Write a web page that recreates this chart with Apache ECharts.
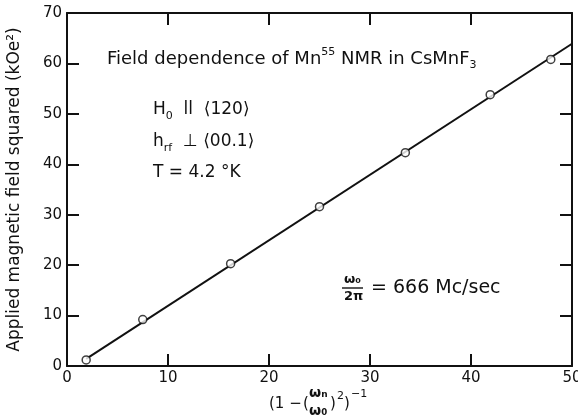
<!DOCTYPE html>
<html>
<head>
<meta charset="utf-8">
<script src="https://cdn.jsdelivr.net/npm/echarts@6/dist/echarts.min.js"></script>
<style>html,body{margin:0;padding:0;background:#fff}#c{width:578px;height:417px}</style>
</head>
<body>
<div id="c"></div>
<script>
// Data
var pointsX = [1.9, 7.5, 16.2, 25.0, 33.5, 41.9, 47.9];
var pointsY = [1.2, 9.2, 20.3, 31.6, 42.3, 53.8, 60.8];
var fitX = [1.9, 50];
var fitY = [1.4, 63.9];
var xTicks = [0, 10, 20, 30, 40, 50];
var yTicks = [0, 10, 20, 30, 40, 50, 60, 70];

var FONT = 'DejaVu Sans';
var INK = '#111';

var chart = echarts.init(document.getElementById('c'), null, {renderer: 'canvas'});

var scatterData = pointsX.map(function (x, i) { return [x, pointsY[i]]; });
var lineData = fitX.map(function (x, i) { return [x, fitY[i]]; });

var rich = {
  b: {fontFamily: FONT, fontSize: 17, lineHeight: 24, color: INK, verticalAlign: 'middle'},
  t: {fontFamily: FONT, fontSize: 18, lineHeight: 24, color: INK, verticalAlign: 'middle'},
  sup: {fontFamily: FONT, fontSize: 11, lineHeight: 24, color: INK, verticalAlign: 'top'},
  sub: {fontFamily: FONT, fontSize: 11, lineHeight: 24, color: INK, verticalAlign: 'bottom'}
};

function txt(x, y, text) {
  return {
    type: 'text', left: x, top: y, z: 10,
    style: {text: text, fontFamily: FONT, fontSize: 17, fill: INK, textAlign: 'left', rich: rich}
  };
}
// glyph placed by its left edge and vertical centre
function g(text, x, yc, size, bold) {
  return {
    type: 'text', x: x, y: yc, z: 10,
    style: {text: text, x: 0, y: 0, fontFamily: FONT, fontSize: size,
            fontWeight: bold ? 'bold' : 'normal', fill: INK,
            align: 'left', verticalAlign: 'middle'}
  };
}

var option = {
  backgroundColor: '#fff',
  animation: false,
  grid: {left: 67, right: 6, top: 13, bottom: 51, containLabel: false, outerBoundsMode: 'none'},
  xAxis: [{
    type: 'value', min: xTicks[0], max: xTicks[xTicks.length - 1], interval: 10,
    position: 'bottom',
    axisLine: {show: true, onZero: false, lineStyle: {color: INK, width: 2}},
    axisTick: {show: true, inside: true, length: 12, lineStyle: {color: INK, width: 2}},
    axisLabel: {color: INK, fontFamily: FONT, fontSize: 15, margin: 5},
    splitLine: {show: false}
  }, {
    type: 'value', min: xTicks[0], max: xTicks[xTicks.length - 1], interval: 10,
    position: 'top',
    axisLine: {show: true, onZero: false, lineStyle: {color: INK, width: 2}},
    axisTick: {show: true, inside: true, length: 12, lineStyle: {color: INK, width: 2}},
    axisLabel: {show: false},
    splitLine: {show: false}
  }],
  yAxis: [{
    type: 'value', min: yTicks[0], max: yTicks[yTicks.length - 1], interval: 10,
    position: 'left',
    name: 'Applied magnetic field squared (kOe²)',
    nameLocation: 'middle', nameRotate: 90, nameGap: 44,
    nameTextStyle: {color: INK, fontFamily: FONT, fontSize: 17},
    axisLine: {show: true, onZero: false, lineStyle: {color: INK, width: 2}},
    axisTick: {show: true, inside: true, length: 12, lineStyle: {color: INK, width: 2}},
    axisLabel: {color: INK, fontFamily: FONT, fontSize: 15, margin: 5},
    splitLine: {show: false}
  }, {
    type: 'value', min: yTicks[0], max: yTicks[yTicks.length - 1], interval: 10,
    position: 'right',
    axisLine: {show: true, onZero: false, lineStyle: {color: INK, width: 2}},
    axisTick: {show: true, inside: true, length: 12, lineStyle: {color: INK, width: 2}},
    axisLabel: {show: false},
    splitLine: {show: false}
  }],
  series: [{
    type: 'line', data: lineData, xAxisIndex: 0, yAxisIndex: 0,
    showSymbol: false, symbol: 'none',
    lineStyle: {color: INK, width: 2}, z: 2
  }, {
    type: 'scatter', data: scatterData, xAxisIndex: 0, yAxisIndex: 0,
    symbol: 'circle', symbolSize: 8,
    itemStyle: {color: '#fff', borderColor: INK, borderWidth: 1.5}, z: 3
  }],
  graphic: [
    txt(107, 47, '{t|Field dependence of Mn}{sup|55}{t| NMR in CsMnF}{sub|3}'),
    txt(153, 101, '{b|H}{sub|0}{b|  ll  ⟨120⟩}'),
    txt(153, 133, '{b|h}{sub|rf}{b|  ⊥ ⟨00.1⟩}'),
    txt(153, 164, '{b|T = 4.2 °K}'),
    // omega0 / 2pi fraction
    g('ω₀', 344, 280, 13, true),
    {type: 'line', z: 10, shape: {x1: 342, y1: 288, x2: 363, y2: 288}, style: {stroke: INK, lineWidth: 1.4}},
    g('2π', 344, 297, 13, true),
    g('= 666 Mc/sec', 371, 288, 19, false),
    // x axis title: (1 - (wn/w0)^2)^-1
    g('(1 −', 269, 404, 15, false),
    g('(', 303, 404, 15, false),
    g('ωₙ', 309, 393, 14, true),
    g('ω₀', 309, 411, 14, true),
    g(')', 330, 404, 15, false),
    g('2', 337, 396, 11, false),
    g(')', 344, 404, 15, false),
    g('−1', 351, 394, 11, false)
  ]
};
chart.setOption(option);
</script>
</body>
</html>
